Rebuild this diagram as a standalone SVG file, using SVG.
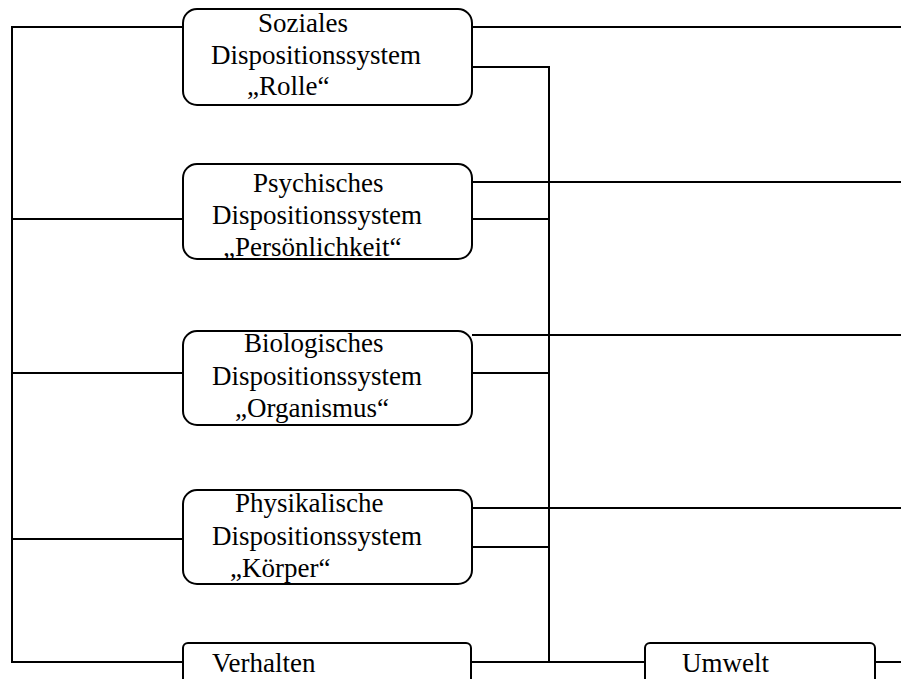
<svg xmlns="http://www.w3.org/2000/svg" width="901" height="679" viewBox="0 0 901 679">
<style>
.box{fill:#fff;stroke:#000;stroke-width:2}
.ln{fill:none;stroke:#000;stroke-width:2}
text{font-family:"Liberation Serif","Times New Roman",serif;font-size:27px;fill:#000}
</style>
<rect width="901" height="679" fill="#fff"/>
<g id="connectors">
<path class="ln" d="M183,27 H12 V662 H183"/>
<path class="ln" d="M12,219 H183 M12,373 H183 M12,539 H183"/>
<path class="ln" d="M472,27 H901 M472,182 H901 M472,335 H901 M472,508 H901"/>
<path class="ln" d="M472,67 H549 V662 M472,219 H549 M472,373 H549 M472,547 H549"/>
<path class="ln" d="M471,662 H645 M875,662 H901"/>
</g>
<g id="soziales">
<rect class="box" x="183" y="9" width="289" height="96" rx="14"/>
<text x="258" y="32">Soziales</text>
<text x="211" y="64">Dispositionssystem</text>
<text x="247" y="95">„Rolle“</text>
</g>
<g id="psychisches">
<rect class="box" x="183" y="164" width="289" height="95" rx="14"/>
<text x="253" y="192">Psychisches</text>
<text x="212" y="224">Dispositionssystem</text>
<text x="223" y="256">„Persönlichkeit“</text>
</g>
<g id="biologisches">
<rect class="box" x="183" y="331" width="289" height="94" rx="14"/>
<text x="244" y="352">Biologisches</text>
<text x="212" y="385">Dispositionssystem</text>
<text x="235" y="417">„Organismus“</text>
</g>
<g id="physikalische">
<rect class="box" x="183" y="490" width="289" height="94" rx="14"/>
<text x="235" y="512">Physikalische</text>
<text x="212" y="545">Dispositionssystem</text>
<text x="230" y="577">„Körper“</text>
</g>
<g id="verhalten">
<rect class="box" x="183" y="643" width="288" height="50" rx="5"/>
<text x="212" y="672">Verhalten</text>
</g>
<g id="umwelt">
<rect class="box" x="645" y="643" width="230" height="50" rx="5"/>
<text x="682" y="672">Umwelt</text>
</g>
</svg>
